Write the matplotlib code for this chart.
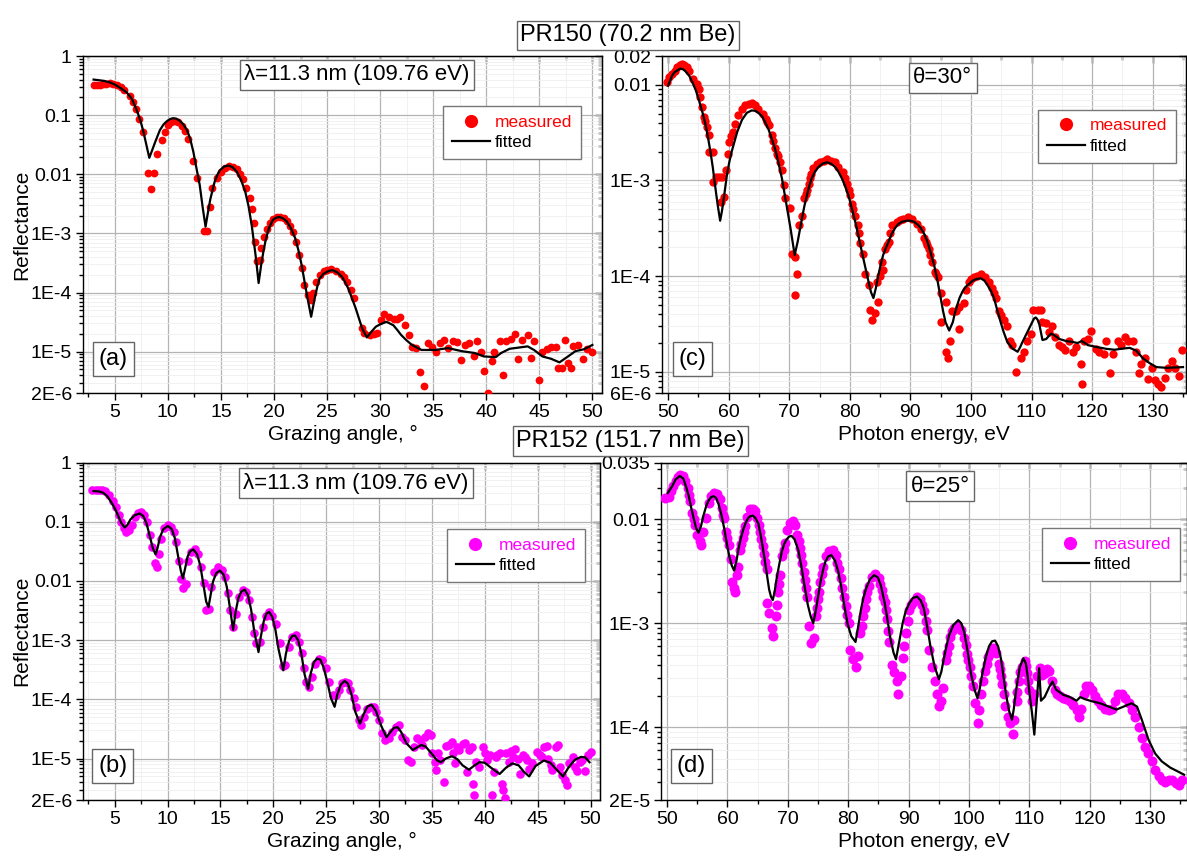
import matplotlib.pyplot as plt
from matplotlib.ticker import MultipleLocator

plt.rcParams['font.family'] = ['Liberation Sans', 'DejaVu Sans']

# PR150, angular scan at 11.3 nm: (grazing angle, reflectance)
a_measured = [
    (3.0, 0.33), (3.3, 0.33), (3.6, 0.33), (3.9, 0.34), (4.2, 0.34), (4.5, 0.35), (4.8, 0.34),
    (5.2, 0.32), (5.6, 0.30), (5.9, 0.27), (6.4, 0.21), (6.7, 0.17), (7.0, 0.125), (7.3, 0.087),
    (7.7, 0.051), (8.1, 0.0105), (8.4, 0.0057), (8.7, 0.0105), (9.0, 0.022), (9.4, 0.038),
    (9.7, 0.052), (10.0, 0.067), (10.3, 0.077), (10.7, 0.079), (11.0, 0.076), (11.3, 0.066),
    (11.6, 0.053), (11.9, 0.039), (12.4, 0.0166), (12.7, 0.0088), (13.4, 0.0011), (13.7, 0.0011),
    (14.0, 0.0028), (14.2, 0.0058), (14.6, 0.0087), (15.0, 0.011), (15.4, 0.0129), (15.8, 0.0138),
    (16.1, 0.0135), (16.5, 0.0122), (16.8, 0.0103), (17.1, 0.0083), (17.4, 0.0059), (17.7, 0.0040),
    (17.9, 0.0026), (18.1, 0.0015), (18.2, 7.2e-4), (18.4, 3.4e-4), (18.7, 3.5e-4), (18.8, 5.7e-4),
    (19.1, 8.8e-4), (19.3, 1.2e-3), (19.6, 1.5e-3), (19.9, 1.75e-3), (20.3, 1.9e-3), (20.6, 1.9e-3),
    (20.9, 1.8e-3), (21.2, 1.6e-3), (21.5, 1.35e-3), (21.8, 1.04e-3), (22.1, 7.2e-4), (22.4, 4.3e-4),
    (22.6, 2.6e-4), (22.8, 1.35e-4), (23.2, 9.1e-5), (23.5, 7.5e-5), (23.7, 1.0e-4), (24.0, 1.5e-4),
    (24.3, 1.95e-4), (24.7, 2.3e-4), (25.0, 2.4e-4), (25.4, 2.5e-4), (25.8, 2.3e-4), (26.3, 2.1e-4),
    (26.6, 1.8e-4), (26.9, 1.5e-4), (27.3, 1.1e-4), (27.5, 8e-5), (28.3, 2.5e-5), (28.5, 2.1e-5),
    (29.0, 1.9e-5), (29.4, 2.0e-5), (29.7, 2.1e-5), (30.1, 3.4e-5), (30.4, 4.3e-5), (30.8, 3.9e-5),
    (31.3, 3.6e-5), (31.6, 3.6e-5), (31.9, 3.9e-5), (32.3, 2.8e-5), (32.7, 1.9e-5), (33.0, 1.2e-5),
    (33.4, 1.15e-5), (33.8, 4.5e-6), (34.1, 2.6e-6), (34.5, 1.4e-5), (34.9, 1.2e-5), (35.3, 1.0e-5),
    (35.6, 1.4e-5), (36.0, 1.6e-5), (36.4, 1.15e-5), (36.9, 1.5e-5), (37.2, 1.45e-5), (37.6, 7.2e-6),
    (38.0, 1.3e-5), (38.4, 1.4e-5), (38.8, 8.5e-6), (39.1, 1.5e-5), (39.5, 9.7e-6), (39.8, 4.8e-6),
    (40.2, 2.0e-6), (40.5, 7e-6), (40.7, 1.0e-5), (41.3, 1.5e-5), (41.6, 4.1e-6), (41.9, 1.5e-5),
    (42.3, 1.65e-5), (42.7, 2.0e-5), (43.0, 7.6e-6), (43.4, 1.55e-5), (43.9, 1.9e-5), (44.2, 7.8e-6),
    (44.5, 1.5e-5), (45.0, 3.3e-6), (45.3, 1.0e-5), (45.7, 1.1e-5), (46.1, 1.2e-5), (46.6, 1.2e-5),
    (46.8, 5.2e-6), (47.1, 5.2e-6), (47.4, 1.55e-5), (47.7, 6.4e-6), (48.0, 5.2e-6), (48.2, 1.25e-5),
    (48.6, 1.3e-5), (49.1, 7.5e-6), (49.5, 1.1e-5), (50.0, 1.0e-5),
]
a_fitted = [
    (3.0, 0.40), (3.5, 0.39), (4.0, 0.38), (4.5, 0.36), (5.0, 0.33), (5.5, 0.29), (6.1, 0.245),
    (6.6, 0.19), (7.0, 0.13), (7.4, 0.083), (7.7, 0.052), (8.0, 0.030), (8.25, 0.019), (8.5, 0.025),
    (8.8, 0.035), (9.25, 0.056), (9.6, 0.070), (9.9, 0.079), (10.2, 0.086), (10.5, 0.089),
    (10.8, 0.087), (11.1, 0.081), (11.45, 0.070), (11.8, 0.056), (12.1, 0.040), (12.4, 0.024),
    (12.7, 0.0125), (13.0, 0.0066), (13.3, 0.0026), (13.55, 0.0013), (13.8, 0.0024), (14.0, 0.0038),
    (14.4, 0.0074), (14.65, 0.0097), (14.9, 0.0117), (15.3, 0.0135), (15.7, 0.0141), (16.1, 0.0132),
    (16.5, 0.011), (16.9, 0.0080), (17.3, 0.005), (17.6, 0.0029), (17.9, 0.00138), (18.3, 3.8e-4),
    (18.55, 1.45e-4), (18.8, 3.0e-4), (19.0, 4.9e-4), (19.2, 7.5e-4), (19.5, 1.2e-3), (19.9, 1.7e-3),
    (20.2, 1.85e-3), (20.5, 1.9e-3), (20.85, 1.8e-3), (21.2, 1.6e-3), (21.6, 1.22e-3), (22.0, 8.3e-4),
    (22.3, 5.2e-4), (22.6, 2.95e-4), (23.1, 9.1e-5), (23.5, 3.9e-5), (23.7, 6e-5), (23.9, 9.1e-5),
    (24.1, 1.3e-4), (24.3, 1.74e-4), (24.7, 2.1e-4), (25.1, 2.3e-4), (25.5, 2.4e-4), (25.95, 2.2e-4),
    (26.4, 1.86e-4), (26.7, 1.5e-4), (27.0, 1.17e-4), (27.35, 8e-5), (27.7, 5.4e-5), (28.3, 2.5e-5),
    (28.75, 1.74e-5), (29.2, 2.2e-5), (29.6, 2.65e-5), (30.0, 2.9e-5), (30.6, 3.2e-5), (31.25, 2.8e-5),
    (31.6, 2.35e-5), (32.0, 1.9e-5), (32.5, 1.55e-5), (33.0, 1.3e-5), (33.9, 1.07e-5), (35.2, 1.07e-5),
    (36.4, 1.15e-5), (37.7, 1.02e-5), (38.9, 9.5e-6), (39.8, 8.3e-6), (40.9, 8.1e-6), (41.4, 9.5e-6),
    (42.2, 1.12e-5), (43.9, 1.23e-5), (44.5, 1.07e-5), (45.3, 8.3e-6), (46.1, 7.6e-6), (46.9, 6.6e-6),
    (47.7, 8.3e-6), (48.4, 1.02e-5), (49.2, 1.1e-5), (50.0, 1.3e-5),
]

# PR152, angular scan at 11.3 nm
b_measured = [
    (2.9, 0.34), (3.2, 0.35), (3.5, 0.35), (3.8, 0.34), (4.1, 0.33), (4.5, 0.28), (4.8, 0.22),
    (5.15, 0.18), (5.4, 0.13), (5.6, 0.10), (5.85, 0.077), (6.1, 0.068), (6.35, 0.072), (6.6, 0.088),
    (6.9, 0.12), (7.2, 0.14), (7.5, 0.148), (7.8, 0.13), (8.05, 0.10), (8.3, 0.06), (8.55, 0.038),
    (8.8, 0.02), (9.0, 0.017), (9.2, 0.029), (9.4, 0.052), (9.7, 0.077), (10.0, 0.088), (10.35, 0.082),
    (10.6, 0.068), (10.8, 0.046), (11.1, 0.022), (11.3, 0.011), (11.5, 0.0075), (11.7, 0.009),
    (11.9, 0.022), (12.2, 0.031), (12.55, 0.034), (12.9, 0.029), (13.2, 0.017), (13.4, 0.0091),
    (13.65, 0.0032), (13.9, 0.0034), (14.1, 0.008), (14.4, 0.0143), (14.8, 0.017), (15.15, 0.0153),
    (15.4, 0.0118), (15.7, 0.0062), (15.9, 0.0032), (16.2, 0.0017), (16.5, 0.0028), (16.8, 0.0054),
    (17.1, 0.007), (17.4, 0.0066), (17.7, 0.0047), (18.0, 0.0025), (18.2, 0.0013), (18.4, 8.8e-4),
    (18.7, 9.3e-4), (19.0, 1.7e-3), (19.3, 2.6e-3), (19.6, 3.0e-3), (19.9, 2.6e-3), (20.25, 1.9e-3),
    (20.6, 8.8e-4), (20.9, 3.6e-4), (21.1, 3.8e-4), (21.45, 7.8e-4), (21.8, 1.14e-3), (22.1, 1.2e-3),
    (22.45, 9.3e-4), (22.7, 6e-4), (22.9, 3.4e-4), (23.1, 2e-4), (23.4, 1.6e-4), (23.65, 2.4e-4),
    (23.96, 4e-4), (24.3, 4.9e-4), (24.65, 4.6e-4), (24.97, 3.4e-4), (25.3, 2e-4), (25.6, 1.2e-4),
    (25.9, 1.2e-4), (26.2, 1.45e-4), (26.5, 1.9e-4), (26.8, 2.0e-4), (27.1, 1.9e-4), (27.3, 1.45e-4),
    (27.6, 1.04e-4), (27.8, 7.5e-5), (28.1, 4.5e-5), (28.3, 3.7e-5), (28.6, 5.1e-5), (28.9, 7.0e-5),
    (29.2, 7.5e-5), (29.5, 7.5e-5), (29.75, 6.2e-5), (30.0, 4.5e-5), (30.3, 2.7e-5), (30.6, 2.05e-5),
    (30.9, 2.2e-5), (31.25, 2.8e-5), (31.6, 3.4e-5), (31.9, 3.7e-5), (32.2, 2.3e-5), (32.5, 2.05e-5),
    (32.75, 9.4e-6), (33.0, 8.8e-6), (33.3, 1.6e-5), (33.6, 2.2e-5), (33.9, 2.05e-5), (34.1, 1.7e-5),
    (34.3, 2.3e-5), (34.6, 2.7e-5), (34.9, 2.5e-5), (35.0, 1.23e-5), (35.3, 8.8e-6), (35.4, 6.4e-6),
    (35.6, 1.23e-5), (35.8, 9.4e-6), (36.1, 4.1e-6), (36.3, 1.63e-5), (36.6, 1.7e-5), (36.9, 1.9e-5),
    (37.0, 1.23e-5), (37.2, 8.3e-6), (37.4, 1.6e-5), (37.6, 1.4e-5), (37.9, 1.8e-5), (38.1, 1.85e-5),
    (38.3, 6e-6), (38.5, 1.4e-5), (38.75, 1.6e-5), (38.9, 3.7e-6), (39.0, 2.4e-6), (39.2, 8.8e-6),
    (39.5, 7.2e-6), (39.8, 1.6e-5), (40.0, 1.23e-5), (40.2, 9.4e-6), (40.5, 1.15e-5), (40.7, 2.4e-6),
    (40.9, 6e-6), (41.1, 1.07e-5), (41.2, 1.15e-5), (41.4, 1.23e-5), (41.6, 3.8e-6), (41.7, 2.9e-6),
    (41.9, 2.2e-6), (42.0, 1.23e-5), (42.3, 8.8e-6), (42.5, 1.36e-5), (42.7, 1.07e-5), (42.9, 1.48e-5),
    (43.1, 1.0e-5), (43.3, 5.6e-6), (43.6, 1.15e-5), (43.8, 1.07e-5), (44.0, 9.4e-6), (44.2, 6.8e-6),
    (44.5, 8.3e-6), (44.9, 1.3e-5), (45.2, 1.15e-5), (45.4, 1.07e-5), (45.6, 1.55e-5), (45.85, 1.63e-5),
    (46.0, 1.0e-5), (46.3, 7.8e-6), (46.4, 6.4e-6), (46.7, 1.6e-5), (46.9, 1.7e-5), (47.1, 7.2e-6),
    (47.3, 5.3e-6), (47.6, 4.3e-6), (47.8, 3.6e-6), (48.0, 8.3e-6), (48.3, 1.07e-5), (48.5, 7.2e-6),
    (48.7, 6.2e-6), (49.0, 8.8e-6), (49.2, 9.4e-6), (49.5, 6.2e-6), (49.8, 1.15e-5), (50.0, 1.3e-5),
]
b_fitted = [
    (3.0, 0.33), (3.5, 0.325), (3.9, 0.31), (4.3, 0.27), (4.7, 0.21), (5.0, 0.17), (5.3, 0.13),
    (5.6, 0.097), (5.94, 0.080), (6.2, 0.088), (6.5, 0.110), (6.9, 0.129), (7.36, 0.138), (7.7, 0.125),
    (8.0, 0.095), (8.3, 0.059), (8.6, 0.036), (8.87, 0.028), (9.05, 0.036), (9.3, 0.056), (9.6, 0.075),
    (10.03, 0.085), (10.4, 0.075), (10.7, 0.052), (11.0, 0.026), (11.25, 0.015), (11.45, 0.011),
    (11.65, 0.016), (11.9, 0.026), (12.15, 0.032), (12.45, 0.034), (12.8, 0.028), (13.1, 0.018),
    (13.4, 0.0085), (13.65, 0.0045), (13.87, 0.0036), (14.05, 0.0055), (14.3, 0.0098), (14.6, 0.0135),
    (14.95, 0.0150), (15.3, 0.0128), (15.6, 0.0080), (15.9, 0.0035), (16.2, 0.0015), (16.45, 0.0031),
    (16.7, 0.0052), (17.0, 0.0067), (17.3, 0.0071), (17.6, 0.0058), (17.9, 0.0033), (18.2, 0.0014),
    (18.6, 6.3e-4), (18.8, 1.1e-3), (19.1, 2.1e-3), (19.35, 2.8e-3), (19.6, 3.0e-3), (19.9, 2.5e-3),
    (20.2, 1.5e-3), (20.5, 7e-4), (20.94, 3.1e-4), (21.2, 6e-4), (21.5, 9.8e-4), (21.8, 1.18e-3),
    (22.05, 1.2e-3), (22.35, 1e-3), (22.65, 6e-4), (22.95, 2.7e-4), (23.3, 1.5e-4), (23.55, 2.8e-4),
    (23.85, 4.3e-4), (24.15, 4.9e-4), (24.45, 4.7e-4), (24.75, 3.5e-4), (25.1, 2.0e-4), (25.45, 1.05e-4),
    (25.8, 7.5e-5), (26.05, 1.2e-4), (26.4, 1.8e-4), (26.75, 2.05e-4), (27.05, 1.85e-4), (27.4, 1.2e-4),
    (27.75, 6.2e-5), (28.2, 3.9e-5), (28.5, 5.4e-5), (28.9, 7.6e-5), (29.3, 8.1e-5), (29.7, 6.4e-5),
    (30.2, 3.6e-5), (30.7, 2.3e-5), (31.0, 2.7e-5), (31.4, 3.3e-5), (31.75, 3.4e-5), (32.1, 2.8e-5),
    (32.6, 1.8e-5), (33.2, 1.4e-5), (33.6, 1.55e-5), (34.0, 1.7e-5), (34.4, 1.6e-5), (35.0, 1.2e-5),
    (35.5, 9.3e-6), (35.85, 8.7e-6), (36.3, 1.0e-5), (36.9, 1.1e-5), (37.4, 9.8e-6), (37.9, 7.7e-6),
    (38.5, 6.5e-6), (39.0, 7.6e-6), (39.5, 8.7e-6), (40.0, 8.5e-6), (40.6, 7.0e-6), (41.4, 5.5e-6),
    (42.0, 7.0e-6), (42.6, 8.3e-6), (43.2, 7.7e-6), (43.7, 6.0e-6), (44.2, 5.0e-6), (44.8, 7.5e-6),
    (45.6, 9.3e-6), (46.2, 8.5e-6), (46.8, 6.5e-6), (47.4, 5.0e-6), (47.9, 7.0e-6), (48.5, 9.5e-6),
    (49.1, 1.07e-5), (49.5, 1.05e-5), (49.9, 8.7e-6),
]

# PR150, energy scan at 30 deg: (photon energy, reflectance)
c_measured = [
    (49.8, 0.0108), (50.2, 0.012), (50.7, 0.013), (51.1, 0.014), (51.5, 0.0153), (51.9, 0.0162),
    (52.3, 0.0166), (52.7, 0.016), (53.1, 0.0153), (53.4, 0.014), (54.2, 0.0114), (54.8, 0.0102),
    (55.05, 0.0091), (55.3, 0.0074), (55.6, 0.0058), (55.9, 0.0046), (56.15, 0.0042), (56.4, 0.0036),
    (56.7, 0.003), (56.8, 0.002), (57.5, 0.002), (57.4, 9.6e-4), (57.9, 1.1e-3), (58.35, 1.1e-3),
    (58.9, 1.1e-3), (58.8, 6e-4), (59.2, 6.7e-4), (59.6, 1.3e-3), (59.9, 1.9e-3), (60.1, 2.5e-3),
    (60.4, 2.9e-3), (60.8, 3.2e-3), (61.1, 3.9e-3), (61.6, 4.8e-3), (62.2, 5.6e-3), (62.7, 6.1e-3),
    (63.3, 6.3e-3), (63.85, 6.5e-3), (64.4, 6.2e-3), (64.9, 5.6e-3), (65.6, 4.9e-3), (66.15, 4.4e-3),
    (66.4, 4.1e-3), (66.7, 3.8e-3), (67.1, 3.0e-3), (67.4, 2.6e-3), (67.7, 2.2e-3), (68.0, 1.9e-3),
    (68.2, 1.8e-3), (68.5, 1.55e-3), (68.8, 1.3e-3), (69.1, 8.9e-4), (69.3, 6.5e-4), (70.2, 5.1e-4),
    (70.4, 1.7e-4), (70.9, 1.6e-4), (71.3, 1.06e-4), (71.0, 6.3e-5), (71.6, 3.4e-4), (72.1, 4.3e-4),
    (72.4, 6.5e-4), (72.7, 7.2e-4), (72.9, 7.9e-4), (73.2, 9.2e-4), (73.4, 1.05e-3), (73.6, 1.17e-3),
    (74.0, 1.35e-3), (74.6, 1.5e-3), (75.1, 1.55e-3), (75.7, 1.6e-3), (76.2, 1.66e-3), (76.9, 1.6e-3),
    (77.6, 1.55e-3), (78.1, 1.4e-3), (78.8, 1.23e-3), (79.2, 1.05e-3), (79.5, 9.2e-4), (79.8, 8e-4),
    (80.05, 7e-4), (80.3, 5.7e-4), (80.6, 5e-4), (80.9, 4.3e-4), (81.3, 3.4e-4), (81.5, 2.8e-4),
    (81.7, 2.2e-4), (82.1, 1.7e-4), (82.5, 1.06e-4), (83.1, 8.1e-5), (83.35, 4.4e-5), (83.7, 3.5e-5),
    (84.2, 4.1e-5), (84.45, 8.7e-5), (84.6, 5.4e-5), (85.0, 1e-4), (85.3, 1.4e-4), (85.55, 1.16e-4),
    (85.8, 1.9e-4), (86.2, 2.1e-4), (86.5, 2.3e-4), (86.7, 2.8e-4), (87.0, 3.4e-4), (87.75, 3.7e-4),
    (88.3, 3.9e-4), (88.8, 4.0e-4), (89.6, 4.2e-4), (90.2, 4.0e-4), (91.1, 3.5e-4), (91.7, 3.1e-4),
    (92.2, 2.5e-4), (92.5, 2.3e-4), (92.8, 2.1e-4), (93.0, 1.9e-4), (93.3, 1.65e-4), (93.6, 1.4e-4),
    (94.1, 1.1e-4), (94.3, 1.05e-4), (94.6, 9.8e-5), (95.0, 6.6e-5), (95.8, 5.4e-5), (95.1, 3.3e-5),
    (95.8, 1.6e-5), (96.2, 1.4e-5), (96.5, 2.1e-5), (96.8, 4.3e-5), (97.5, 4.3e-5), (98.1, 2.8e-5),
    (98.0, 4.8e-5), (98.8, 5.2e-5), (99.1, 7.1e-5), (99.7, 8.7e-5), (100.0, 9.3e-5), (100.5, 9.8e-5),
    (101.05, 1.0e-4), (101.6, 1.05e-4), (102.3, 9.8e-5), (103.0, 8.7e-5), (103.5, 7.5e-5),
    (103.8, 6.7e-5), (104.2, 5.9e-5), (104.6, 4.3e-5), (105.0, 3.9e-5), (105.5, 3.5e-5), (106.0, 3e-5),
    (106.4, 2.1e-5), (106.7, 1.9e-5), (107.5, 1.0e-5), (108.2, 1.4e-5), (108.8, 1.6e-5), (109.3, 2.1e-5),
    (109.9, 2.5e-5), (110.3, 4.4e-5), (111.0, 4.4e-5), (111.5, 4.4e-5), (111.7, 3.3e-5), (112.4, 3.2e-5),
    (112.9, 2.6e-5), (113.4, 3e-5), (113.9, 2.3e-5), (114.5, 1.9e-5), (115.0, 1.8e-5), (115.6, 1.7e-5),
    (116.2, 2.1e-5), (116.8, 1.6e-5), (117.35, 1.8e-5), (118.2, 1.2e-5), (118.3, 7.5e-6), (118.7, 2.1e-5),
    (119.3, 2.2e-5), (119.8, 2.7e-5), (120.7, 1.75e-5), (121.2, 1.6e-5), (121.9, 1.55e-5), (122.3, 2.1e-5),
    (122.9, 9.6e-6), (123.4, 1.55e-5), (124.3, 2.1e-5), (124.8, 1.9e-5), (125.4, 2.3e-5), (125.9, 2.1e-5),
    (126.7, 2.1e-5), (127.3, 1.6e-5), (127.7, 9.6e-6), (128.1, 1.2e-5), (128.7, 1.4e-5), (129.2, 8.5e-6),
    (129.8, 1.1e-5), (130.3, 8.2e-6), (130.9, 7.5e-6), (131.4, 7e-6), (132.0, 8.7e-6), (132.5, 1.1e-5),
    (133.1, 1.3e-5), (133.6, 1.1e-5), (134.4, 9e-6), (134.9, 1.7e-5),
]
c_fitted = [
    (50.0, 0.0098), (50.4, 0.0113), (50.7, 0.0126), (51.1, 0.0136), (51.5, 0.0141), (52.0, 0.0148),
    (52.5, 0.0145), (52.9, 0.0138), (53.5, 0.0124), (54.0, 0.0107), (54.6, 0.0087), (55.1, 0.0069),
    (55.7, 0.0051), (56.2, 0.0038), (56.6, 0.0028), (57.0, 0.002), (57.4, 1.35e-3), (57.7, 9.5e-4),
    (58.2, 5.5e-4), (58.6, 3.8e-4), (58.9, 4.8e-4), (59.2, 6.5e-4), (59.7, 1.12e-3), (60.1, 1.55e-3),
    (60.5, 2e-3), (61.0, 2.6e-3), (61.4, 3.2e-3), (62.2, 4.3e-3), (63.0, 5.1e-3), (63.8, 5.4e-3),
    (64.4, 5.35e-3), (64.9, 5.1e-3), (65.5, 4.7e-3), (66.0, 4.1e-3), (66.6, 3.4e-3), (67.1, 2.75e-3),
    (67.7, 2.1e-3), (68.2, 1.55e-3), (68.8, 1.05e-3), (69.3, 6.9e-4), (69.8, 4.6e-4), (70.2, 3.2e-4),
    (70.6, 2.2e-4), (70.9, 1.66e-4), (71.4, 2.3e-4), (72.1, 4e-4), (72.5, 5.4e-4), (72.9, 6.9e-4),
    (73.3, 8.7e-4), (73.7, 1.05e-3), (74.2, 1.22e-3), (74.8, 1.38e-3), (75.5, 1.5e-3), (76.2, 1.55e-3),
    (76.9, 1.5e-3), (77.6, 1.38e-3), (78.1, 1.24e-3), (78.7, 1.05e-3), (79.2, 8.8e-4), (79.8, 6.9e-4),
    (80.3, 5.2e-4), (80.9, 3.7e-4), (81.5, 2.5e-4), (82.0, 1.78e-4), (82.6, 1.2e-4), (83.1, 8.7e-5),
    (83.5, 6.8e-5), (83.9, 5.9e-5), (84.3, 7.5e-5), (84.7, 1.02e-4), (85.1, 1.32e-4), (85.5, 1.66e-4),
    (86.0, 2.0e-4), (86.4, 2.3e-4), (86.9, 2.75e-4), (87.5, 3.2e-4), (88.0, 3.5e-4), (88.6, 3.7e-4),
    (89.4, 3.8e-4), (90.0, 3.8e-4), (90.6, 3.7e-4), (91.2, 3.45e-4), (91.7, 3.2e-4), (92.3, 2.75e-4),
    (92.8, 2.3e-4), (93.3, 1.8e-4), (93.9, 1.32e-4), (94.5, 8.8e-5), (95.0, 5.9e-5), (95.4, 4.3e-5),
    (95.8, 3.3e-5), (96.4, 2.7e-5), (97.0, 3.3e-5), (97.3, 4e-5), (97.7, 4.9e-5), (98.1, 5.9e-5),
    (98.6, 6.9e-5), (99.1, 7.7e-5), (99.7, 8.3e-5), (100.2, 8.9e-5), (100.8, 9.3e-5), (101.6, 9.5e-5),
    (102.2, 9e-5), (102.7, 8.1e-5), (103.3, 7e-5), (103.8, 5.9e-5), (104.3, 4.5e-5), (104.9, 3.3e-5),
    (105.4, 2.6e-5), (106.0, 2.05e-5), (106.9, 1.74e-5), (107.7, 1.62e-5), (108.1, 1.8e-5),
    (108.5, 2.05e-5), (109.3, 2.6e-5), (110.1, 3.3e-5), (110.4, 3.6e-5), (110.7, 3.7e-5), (111.0, 3.5e-5),
    (111.3, 3.1e-5), (111.6, 2.5e-5), (111.8, 2.15e-5), (112.4, 2.2e-5), (113.2, 2.5e-5), (113.6, 2.45e-5),
    (114.6, 2.2e-5), (115.7, 2.1e-5), (116.8, 2.05e-5), (117.6, 2.0e-5), (118.3, 2.1e-5), (119.3, 1.9e-5),
    (120.7, 1.82e-5), (122.3, 1.74e-5), (123.7, 1.7e-5), (124.8, 1.74e-5), (126.2, 1.78e-5),
    (127.3, 1.66e-5), (128.4, 1.38e-5), (129.5, 1.23e-5), (130.6, 1.12e-5), (132.3, 1.1e-5),
    (135.0, 1.12e-5),
]

# PR152, energy scan at 25 deg
d_measured = [
    (49.7, 0.016), (50.3, 0.0165), (50.7, 0.0185), (51.0, 0.021), (51.4, 0.023), (51.8, 0.0255),
    (52.2, 0.0267), (52.6, 0.026), (53.0, 0.0235), (53.4, 0.020), (53.6, 0.017), (53.85, 0.0148),
    (54.2, 0.0114), (54.4, 0.010), (54.6, 0.0088), (55.0, 0.0071), (55.4, 0.0061), (55.6, 0.0057),
    (56.0, 0.0076), (56.4, 0.0102), (56.9, 0.0142), (57.3, 0.0168), (57.8, 0.018), (58.2, 0.0175),
    (58.7, 0.0156), (59.1, 0.0128), (59.3, 0.011), (59.45, 0.0102), (59.8, 0.0076), (60.0, 0.0066),
    (60.2, 0.0057), (60.5, 0.0041), (60.7, 0.0025), (61.1, 0.0022), (61.3, 0.002), (61.5, 0.0029),
    (61.8, 0.0035), (62.1, 0.0051), (62.3, 0.0058), (62.5, 0.0066), (62.7, 0.0075), (62.9, 0.0085),
    (63.3, 0.0106), (63.7, 0.0125), (64.2, 0.0125), (64.6, 0.012), (64.9, 0.0102), (65.2, 0.0088),
    (65.4, 0.0076), (65.6, 0.0064), (65.8, 0.0055), (66.0, 0.0046), (66.2, 0.0039), (66.5, 0.0033),
    (66.6, 0.00156), (66.9, 0.00125), (67.3, 9e-4), (67.5, 7.5e-4), (68.0, 0.00116), (68.2, 0.0015),
    (68.4, 0.002), (68.55, 0.0024), (68.7, 0.0029), (69.1, 0.0044), (69.3, 0.0051), (69.5, 0.0059),
    (69.9, 0.0079), (70.3, 0.0091), (70.8, 0.0095), (71.2, 0.0088), (71.5, 0.0071), (71.8, 0.0062),
    (72.0, 0.0053), (72.2, 0.0045), (72.4, 0.0038), (72.6, 0.0031), (72.8, 0.0026), (73.0, 0.0022),
    (73.2, 0.0018), (73.5, 9.3e-4), (73.9, 6.4e-4), (74.3, 7.2e-4), (74.6, 0.00116), (74.8, 0.0014),
    (75.0, 0.0017), (75.2, 0.002), (75.4, 0.0025), (75.6, 0.003), (75.8, 0.0035), (76.3, 0.0044),
    (76.8, 0.0049), (77.4, 0.005), (77.9, 0.0045), (78.2, 0.0038), (78.5, 0.0033), (78.8, 0.0027),
    (79.0, 0.0022), (79.3, 0.0018), (79.6, 0.00145), (79.8, 0.0012), (80.1, 0.001), (80.3, 5.5e-4),
    (80.8, 4.5e-4), (81.2, 3.8e-4), (81.6, 4.8e-4), (82.0, 8e-4), (82.2, 9.5e-4), (82.4, 0.00116),
    (82.7, 0.0014), (82.9, 0.0017), (83.1, 0.002), (83.4, 0.0023), (84.0, 0.0028), (84.5, 0.003),
    (85.05, 0.0027), (85.3, 0.0024), (85.6, 0.0021), (85.8, 0.0018), (86.0, 0.0016), (86.2, 0.00135),
    (86.4, 0.0011), (86.6, 8.5e-4), (86.8, 6.6e-4), (87.25, 4e-4), (87.6, 3.4e-4), (88.0, 2.8e-4),
    (88.2, 2.1e-4), (88.7, 3.1e-4), (89.1, 4.6e-4), (89.3, 6e-4), (89.6, 8e-4), (89.85, 0.00105),
    (90.1, 0.00135), (90.4, 0.0015), (90.7, 0.0016), (91.4, 0.0018), (91.9, 0.0017), (92.2, 0.0015),
    (92.5, 0.0013), (92.8, 0.00105), (93.1, 8.6e-4), (93.4, 5.5e-4), (93.9, 3.8e-4), (94.3, 2.8e-4),
    (94.7, 2.1e-4), (95.0, 1.6e-4), (95.4, 1.8e-4), (95.7, 2.4e-4), (96.1, 4.4e-4), (96.4, 5.2e-4),
    (96.6, 6e-4), (96.9, 7.4e-4), (97.2, 8.5e-4), (97.5, 9e-4), (98.1, 9.3e-4), (98.6, 8.6e-4),
    (99.2, 7.2e-4), (99.5, 6.2e-4), (99.7, 5.1e-4), (99.9, 4.4e-4), (100.1, 3.8e-4), (100.3, 3.1e-4),
    (100.6, 2.5e-4), (101.0, 1.7e-4), (101.4, 1.1e-4), (101.7, 1.45e-4), (101.9, 2.1e-4), (102.3, 2.8e-4),
    (102.6, 3.5e-4), (102.9, 4.1e-4), (103.1, 4.7e-4), (103.4, 5.2e-4), (104.0, 5.8e-4), (104.4, 5.2e-4),
    (104.9, 4.1e-4), (105.1, 3.6e-4), (105.3, 3.1e-4), (105.5, 2.6e-4), (105.7, 2.1e-4), (106.0, 1.6e-4),
    (106.4, 1.26e-4), (106.8, 1.1e-4), (107.2, 8.7e-5), (107.5, 1.17e-4), (107.9, 1.8e-4), (108.0, 2.2e-4),
    (108.3, 2.8e-4), (108.5, 3.4e-4), (108.8, 3.8e-4), (109.2, 4.3e-4), (109.4, 3.9e-4), (109.6, 3.3e-4),
    (109.8, 2.8e-4), (110.0, 2.3e-4), (110.4, 1.8e-4), (110.8, 2.1e-4), (111.2, 3.1e-4), (111.7, 3.7e-4),
    (112.1, 3.2e-4), (112.5, 3.3e-4), (112.9, 3.6e-4), (113.3, 3.5e-4), (113.8, 2.8e-4), (114.2, 2.3e-4),
    (114.6, 2.1e-4), (115.0, 2.0e-4), (115.6, 1.9e-4), (116.1, 1.85e-4), (116.7, 1.8e-4), (117.2, 1.65e-4),
    (117.8, 1.45e-4), (118.2, 1.26e-4), (118.6, 1.5e-4), (119.0, 2.1e-4), (119.4, 2.5e-4), (119.9, 2.5e-4),
    (120.3, 2.3e-4), (120.8, 2.0e-4), (121.4, 1.8e-4), (121.9, 1.65e-4), (122.5, 1.5e-4), (123.1, 1.45e-4),
    (123.6, 1.5e-4), (124.2, 1.8e-4), (124.7, 2.1e-4), (125.3, 2.1e-4), (125.8, 1.9e-4), (126.4, 1.7e-4),
    (126.9, 1.45e-4), (127.5, 1.26e-4), (128.1, 1.0e-4), (128.6, 7.9e-5), (129.2, 6.5e-5), (129.7, 5.6e-5),
    (130.3, 4.7e-5), (130.8, 3.9e-5), (131.4, 3.4e-5), (131.9, 3.1e-5), (132.5, 3.0e-5), (133.1, 3.1e-5),
    (133.6, 3.1e-5), (134.2, 2.9e-5), (134.7, 2.8e-5), (135.3, 3.1e-5),
]
d_fitted = [
    (50.1, 0.0178), (50.8, 0.0205), (51.4, 0.024), (52.1, 0.026), (52.7, 0.0245), (53.2, 0.020),
    (53.6, 0.0166), (54.0, 0.0128), (54.4, 0.0102), (54.8, 0.0082), (55.2, 0.0074), (55.6, 0.0085),
    (56.0, 0.0107), (56.5, 0.0135), (56.9, 0.0152), (57.3, 0.0163), (57.7, 0.0166), (58.1, 0.0160),
    (58.5, 0.0141), (59.0, 0.0110), (59.5, 0.0079), (59.9, 0.0058), (60.3, 0.0044), (60.7, 0.0036),
    (61.1, 0.0032), (61.5, 0.0040), (61.8, 0.0051), (62.2, 0.0065), (62.6, 0.0079), (63.0, 0.0092),
    (63.4, 0.0102), (63.8, 0.0107), (64.2, 0.0108), (64.6, 0.0103), (65.1, 0.0091), (65.5, 0.0070),
    (66.0, 0.0047), (66.4, 0.0033), (66.9, 0.0021), (67.2, 0.0018), (67.5, 0.00167), (67.8, 0.0020),
    (68.1, 0.0026), (68.5, 0.0035), (69.0, 0.0049), (69.4, 0.0058), (69.8, 0.0064), (70.2, 0.0068),
    (70.6, 0.0069), (71.1, 0.0064), (71.7, 0.0051), (72.2, 0.0036), (72.8, 0.0022), (73.3, 0.0015),
    (73.8, 0.00115), (74.2, 0.0010), (74.6, 0.0013), (75.0, 0.0018), (75.4, 0.0025), (75.8, 0.0032),
    (76.2, 0.0039), (76.7, 0.0044), (77.2, 0.0045), (77.8, 0.0040), (78.3, 0.0032), (78.8, 0.0023),
    (79.4, 0.0014), (79.9, 0.00098), (80.5, 7.5e-4), (81.2, 6.6e-4), (81.6, 9e-4), (82.1, 1.35e-3),
    (82.5, 1.75e-3), (83.0, 2.2e-3), (83.6, 2.65e-3), (84.3, 2.9e-3), (84.9, 2.75e-3), (85.4, 2.3e-3),
    (86.0, 1.6e-3), (86.5, 1.07e-3), (87.0, 7e-4), (87.5, 5.2e-4), (87.9, 4.5e-4), (88.4, 6.5e-4),
    (89.0, 1.0e-3), (89.5, 1.3e-3), (90.1, 1.55e-3), (90.7, 1.75e-3), (91.4, 1.8e-3), (92.0, 1.65e-3),
    (92.5, 1.4e-3), (93.1, 9e-4), (93.6, 6e-4), (94.3, 3.8e-4), (95.0, 2.9e-4), (95.4, 3.4e-4),
    (95.8, 4.5e-4), (96.3, 6.2e-4), (96.7, 7.7e-4), (97.4, 9.6e-4), (98.2, 1.07e-3), (98.7, 1.0e-3),
    (99.2, 8.2e-4), (99.8, 5.2e-4), (100.3, 3.3e-4), (100.9, 2.3e-4), (101.4, 1.9e-4), (101.8, 2.4e-4),
    (102.2, 3.3e-4), (102.8, 4.8e-4), (103.3, 6e-4), (103.8, 6.7e-4), (104.3, 6.8e-4), (104.8, 6.0e-4),
    (105.3, 4.5e-4), (105.7, 3.1e-4), (106.1, 2.1e-4), (106.6, 1.45e-4), (107.1, 1.18e-4), (107.4, 1.5e-4),
    (107.8, 2.3e-4), (108.4, 3.8e-4), (109.0, 4.6e-4), (109.4, 4.1e-4), (109.7, 3.1e-4), (110.1, 1.9e-4),
    (110.4, 1.4e-4), (110.8, 8.5e-5), (111.2, 1.8e-4), (111.6, 3.7e-4), (111.9, 1.8e-4), (112.5, 1.95e-4),
    (113.3, 2.45e-4), (113.8, 2.75e-4), (114.4, 2.3e-4), (115.6, 2.05e-4), (116.7, 1.95e-4),
    (117.8, 1.8e-4), (118.4, 1.95e-4), (119.2, 1.86e-4), (120.3, 1.78e-4), (121.7, 1.7e-4),
    (123.1, 1.58e-4), (124.4, 1.48e-4), (125.6, 1.58e-4), (126.9, 1.7e-4), (127.8, 1.58e-4),
    (128.6, 1.18e-4), (129.7, 7.6e-5), (130.8, 5.6e-5), (131.9, 4.7e-5), (133.3, 4.1e-5), (135.6, 3.5e-5),
]

# axis ticks and labels
angle_ticks = [5, 10, 15, 20, 25, 30, 35, 40, 45, 50]
energy_ticks = [50, 60, 70, 80, 90, 100, 110, 120, 130]
ab_yticks = [1, 0.1, 0.01, 1e-3, 1e-4, 1e-5, 2e-6]
ab_ylabels = ['1', '0.1', '0.01', '1E-3', '1E-4', '1E-5', '2E-6']
c_yticks = [0.02, 0.01, 1e-3, 1e-4, 1e-5, 6e-6]
c_ylabels = ['0.02', '0.01', '1E-3', '1E-4', '1E-5', '6E-6']
d_yticks = [0.035, 0.01, 1e-3, 1e-4, 2e-5]
d_ylabels = ['0.035', '0.01', '1E-3', '1E-4', '2E-5']

RED = '#ff0000'
MAGENTA = '#ff00ff'
box = dict(boxstyle='square,pad=0.2', fc='white', ec='#666666', lw=1.0)


def draw_panel(ax, measured, fitted, color, ms, xlim, xticks, xminor, ylim, yticks, ylabels,
               xlabel, note, note_pos, tag, leg_pos, show_ylabel):
    mx, my = zip(*measured)
    fx, fy = zip(*fitted)
    ax.set_yscale('log')
    ax.plot(mx, my, 'o', color=color, ms=ms, mew=0, label='measured', zorder=3)
    ax.plot(fx, fy, '-', color='black', lw=1.6, label='fitted', zorder=4)
    ax.set_xlim(*xlim)
    ax.set_ylim(*ylim)
    ax.set_xticks(xticks)
    ax.xaxis.set_minor_locator(MultipleLocator(xminor))
    ax.set_yticks(yticks, ylabels)
    ax.tick_params(which='both', direction='out', labelsize=14, width=1, pad=3)
    ax.tick_params(which='major', length=5)
    ax.tick_params(which='minor', length=3)
    for s in ax.spines.values():
        s.set_linewidth(1.0)

    # inward ticks on top and right
    top = ax.secondary_xaxis('top')
    top.set_xticks(xticks)
    top.xaxis.set_minor_locator(MultipleLocator(xminor))
    top.tick_params(which='both', direction='in', labeltop=False, width=1)
    top.tick_params(which='major', length=5)
    top.tick_params(which='minor', length=3)
    right = ax.secondary_yaxis('right')
    right.set_yticks(yticks)
    right.tick_params(which='both', direction='in', labelright=False, width=1)
    right.tick_params(which='major', length=5)
    right.tick_params(which='minor', length=3)

    ax.grid(which='major', color='#b4b4b4', lw=0.9)
    ax.grid(which='minor', color='#efefef', lw=0.6)
    ax.set_axisbelow(True)

    ax.set_xlabel(xlabel, fontsize=15)
    ax.xaxis.set_label_coords(0.5, -0.095)
    if show_ylabel:
        ax.set_ylabel('Reflectance', fontsize=15)
        ax.yaxis.set_label_coords(-0.10, 0.5)

    ax.text(note_pos[0], note_pos[1], note, transform=ax.transAxes, ha='center', va='center',
            fontsize=16, bbox=box, zorder=6)
    ax.text(0.058, 0.10, tag, transform=ax.transAxes, ha='center', va='center',
            fontsize=17, bbox=dict(boxstyle='square,pad=0.25', fc='white', ec='#666666', lw=1.0),
            zorder=6)

    leg = ax.legend(loc='upper right', bbox_to_anchor=leg_pos, fontsize=12.5, frameon=True,
                    fancybox=False, edgecolor='#777777', framealpha=1, markerscale=9.5 / ms,
                    handlelength=2.2, handletextpad=0.3, borderaxespad=0, borderpad=0.5,
                    labelspacing=0.3, labelcolor=[color, 'black'])
    leg.get_frame().set_linewidth(1.0)
    leg.set_zorder(6)


fig = plt.figure(figsize=(11.87, 8.57), dpi=100)
ax_a = fig.add_axes([0.0699, 0.5414, 0.4372, 0.3932])
ax_c = fig.add_axes([0.5577, 0.5414, 0.4415, 0.3932])
ax_b = fig.add_axes([0.0699, 0.0665, 0.4356, 0.3938])
ax_d = fig.add_axes([0.5569, 0.0665, 0.4427, 0.3938])

draw_panel(ax_a, a_measured, a_fitted, RED, 5.6, (2, 50.9), angle_ticks, 2.5, (2e-6, 1),
           ab_yticks, ab_ylabels, 'Grazing angle, \u00b0', '\u03bb=11.3 nm (109.76 eV)',
           (0.528, 0.944), '(a)', (0.96, 0.852), True)
draw_panel(ax_c, c_measured, c_fitted, RED, 6.0, (49, 135.5), energy_ticks, 5, (6e-6, 0.02),
           c_yticks, c_ylabels, 'Photon energy, eV', '\u03b8=30\u00b0',
           (0.536, 0.936), '(c)', (0.981, 0.841), False)
draw_panel(ax_b, b_measured, b_fitted, MAGENTA, 6.2, (2, 50.9), angle_ticks, 2.5, (2e-6, 1),
           ab_yticks, ab_ylabels, 'Grazing angle, \u00b0', '\u03bb=11.3 nm (109.76 eV)',
           (0.528, 0.939), '(b)', (0.971, 0.803), True)
draw_panel(ax_d, d_measured, d_fitted, MAGENTA, 7.2, (49, 136), energy_ticks, 5, (2e-5, 0.035),
           d_yticks, d_ylabels, 'Photon energy, eV', '\u03b8=25\u00b0',
           (0.531, 0.930), '(d)', (0.988, 0.806), False)

# sample titles
title_box = dict(boxstyle='square,pad=0.15', fc='white', ec='#666666', lw=1.0)
fig.text(0.529, 0.959, 'PR150 (70.2 nm Be)', ha='center', va='center', fontsize=17, bbox=title_box)
fig.text(0.531, 0.4854, 'PR152 (151.7 nm Be)', ha='center', va='center', fontsize=17, bbox=title_box)

fig.savefig('out.png', dpi=100)
